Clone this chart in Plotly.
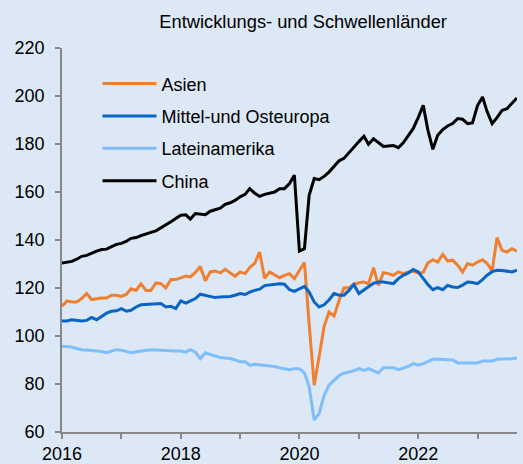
import pandas as pd
import plotly.graph_objects as go

# Monthly index values, Jan 2016 - Sep 2023
start_month = "2016-01-01"
asien = [112.4, 114.6, 114.2, 114.2, 115.6, 117.7, 115.2, 115.6, 115.8, 115.8,
         117.0, 117.0, 116.5, 117.4, 119.7, 119.0, 121.8, 119.0, 119.0, 122.1,
         121.8, 120.0, 123.5, 123.5, 124.3, 125.0, 124.6, 126.5, 129.0, 123.0,
         126.7, 127.1, 126.3, 127.8, 126.3, 124.9, 126.7, 126.0, 128.5, 130.3,
         135.0, 124.0, 126.7, 125.5, 124.3, 125.3, 126.0, 123.9, 127.0, 130.6,
         105.0, 79.5, 91.3, 104.0, 110.0, 108.3, 114.8, 120.0, 120.2, 121.5,
         122.2, 122.5, 121.8, 128.5, 121.1, 126.4, 126.0, 125.3, 126.7, 126.0,
         126.7, 127.0, 126.3, 126.5, 130.4, 131.8, 130.8, 134.0, 131.3, 131.6,
         129.5, 126.7, 130.2, 129.5, 130.8, 131.8, 130.2, 127.1, 141.0, 135.7,
         135.0, 136.4, 135.4]
mittel_osteuropa = [106.3, 106.3, 106.8, 106.5, 106.3, 106.5, 107.7, 106.8, 108.2, 109.5,
                    110.3, 110.5, 111.4, 110.3, 110.7, 112.1, 113.0, 113.2, 113.2, 113.3,
                    113.5, 112.1, 112.4, 111.4, 114.6, 113.7, 114.5, 115.6, 117.4, 117.0,
                    116.3, 116.0, 116.3, 116.3, 116.5, 117.0, 117.7, 117.3, 118.3, 119.0,
                    119.5, 121.0, 121.3, 121.4, 121.8, 121.6, 119.3, 118.6, 119.5, 120.7,
                    118.3, 114.2, 112.1, 113.0, 115.0, 117.7, 117.0, 117.0, 119.0, 121.5,
                    117.7, 119.0, 120.5, 122.0, 122.5, 122.5, 122.3, 121.8, 123.9, 125.3,
                    126.3, 127.7, 126.7, 123.9, 121.5, 119.3, 120.2, 119.3, 121.1, 120.4,
                    120.2, 121.2, 122.5, 122.3, 121.8, 123.5, 125.3, 126.8, 127.4, 127.3,
                    127.0, 126.7, 127.4]
lateinamerika = [95.7, 95.6, 95.4, 94.8, 94.3, 94.2, 94.0, 93.8, 93.5, 93.0,
                 93.8, 94.3, 94.1, 93.6, 93.0, 93.4, 93.7, 94.0, 94.3, 94.2,
                 94.0, 93.8, 93.6, 93.7, 93.7, 93.3, 94.3, 93.3, 90.6, 93.0,
                 92.3, 91.5, 91.0, 90.8, 90.6, 90.0, 89.3, 89.3, 87.8, 88.2,
                 88.0, 87.8, 87.8, 87.3, 86.8, 86.3, 86.0, 86.4, 86.4, 84.6,
                 78.8, 65.0, 67.6, 75.3, 79.5, 81.5, 83.5, 84.5, 85.0, 85.5,
                 86.4, 85.7, 86.4, 85.5, 84.6, 86.8, 86.8, 86.8, 86.0, 86.5,
                 87.3, 88.5, 87.8, 88.5, 89.5, 90.3, 90.3, 90.3, 90.3, 90.0,
                 88.8, 88.8, 88.8, 88.8, 88.8, 89.6, 89.6, 89.6, 90.3, 90.3,
                 90.5, 90.5, 90.8]
china = [130.4, 130.8, 131.1, 132.0, 133.2, 133.6, 134.5, 135.4, 136.0, 136.2,
         137.2, 138.2, 138.6, 139.5, 140.7, 141.0, 141.8, 142.6, 143.2, 143.8,
         145.0, 146.3, 147.6, 149.0, 150.3, 150.5, 148.7, 151.0, 150.8, 150.5,
         152.0, 152.8, 153.3, 154.9, 155.5, 156.5, 158.0, 159.0, 161.4, 159.5,
         158.2, 159.0, 159.6, 160.0, 161.4, 161.4, 163.5, 167.0, 135.4, 136.4,
         158.6, 165.6, 165.1, 166.5, 168.3, 170.5, 173.0, 174.0, 176.5, 178.5,
         181.0, 183.2, 179.9, 182.2, 180.5, 179.0, 179.2, 179.4, 178.5, 180.5,
         183.5, 186.4, 191.0, 196.1, 186.0, 177.8, 183.6, 186.0, 187.5, 188.5,
         190.6, 190.3, 188.5, 188.8, 196.0, 199.6, 193.5, 188.5, 191.0, 194.0,
         194.7, 197.0, 199.2]

series_names = ["Asien", "Mittel-und Osteuropa", "Lateinamerika", "China"]
series_colors = ["#F08030", "#0A64C4", "#80BEFA", "#000000"]
x_tick_years = ["2016", "2017", "2018", "2019", "2020", "2021", "2022", "2023"]
x_tick_labels = ["2016", "", "2018", "", "2020", "", "2022", ""]
y_ticks = [60, 80, 100, 120, 140, 160, 180, 200, 220]
title_text = "Entwicklungs- und Schwellenländer"

dates = pd.date_range(start_month, periods=len(china), freq="MS")
bg = "#DCE8F6"
font_family = "Liberation Sans, Arial, sans-serif"

fig = go.Figure()
for name, vals, col in zip(series_names, [asien, mittel_osteuropa, lateinamerika, china], series_colors):
    fig.add_trace(go.Scatter(x=dates, y=vals, mode="lines", name=name, legendgroup=name,
                             line=dict(color=col, width=3)))

fig.update_layout(
    width=523, height=464,
    margin=dict(l=62, r=6, t=48, b=32, autoexpand=False),
    paper_bgcolor=bg, plot_bgcolor=bg,
    font=dict(family=font_family, size=18, color="#000000"),
    title=dict(text=title_text, x=0.53, xref="paper", xanchor="center",
               y=1 - 22 / 464, yref="container", yanchor="middle",
               font=dict(size=18.3, family=font_family, color="#000000")),
    showlegend=True,
    legend=dict(x=0.078, y=0.955, xanchor="left", yanchor="top",
                bgcolor="rgba(0,0,0,0)", tracegroupgap=6, itemwidth=54,
                font=dict(size=18, family=font_family)),
    xaxis=dict(type="date", range=[dates[0], dates[-1]], automargin=False,
               tickvals=[pd.Timestamp(y + "-01-01") for y in x_tick_years],
               ticktext=x_tick_labels, ticks="outside", ticklen=5, tickwidth=1.5,
               tickcolor="#888888", showline=True, linecolor="#888888", linewidth=1.5,
               showgrid=False, zeroline=False, tickfont=dict(size=18)),
    yaxis=dict(range=[60, 220], tickvals=y_ticks, ticks="outside", ticklen=5,
               tickwidth=1.5, tickcolor="#888888", showline=True, linecolor="#888888",
               linewidth=1.5, showgrid=False, zeroline=False, tickfont=dict(size=18),
               automargin=False, ticklabelstandoff=7),
)

fig.write_html(
    "out.html",
    config={"displayModeBar": False},
    post_script="document.body.style.margin='0';document.body.style.background='" + bg + "';",
)
